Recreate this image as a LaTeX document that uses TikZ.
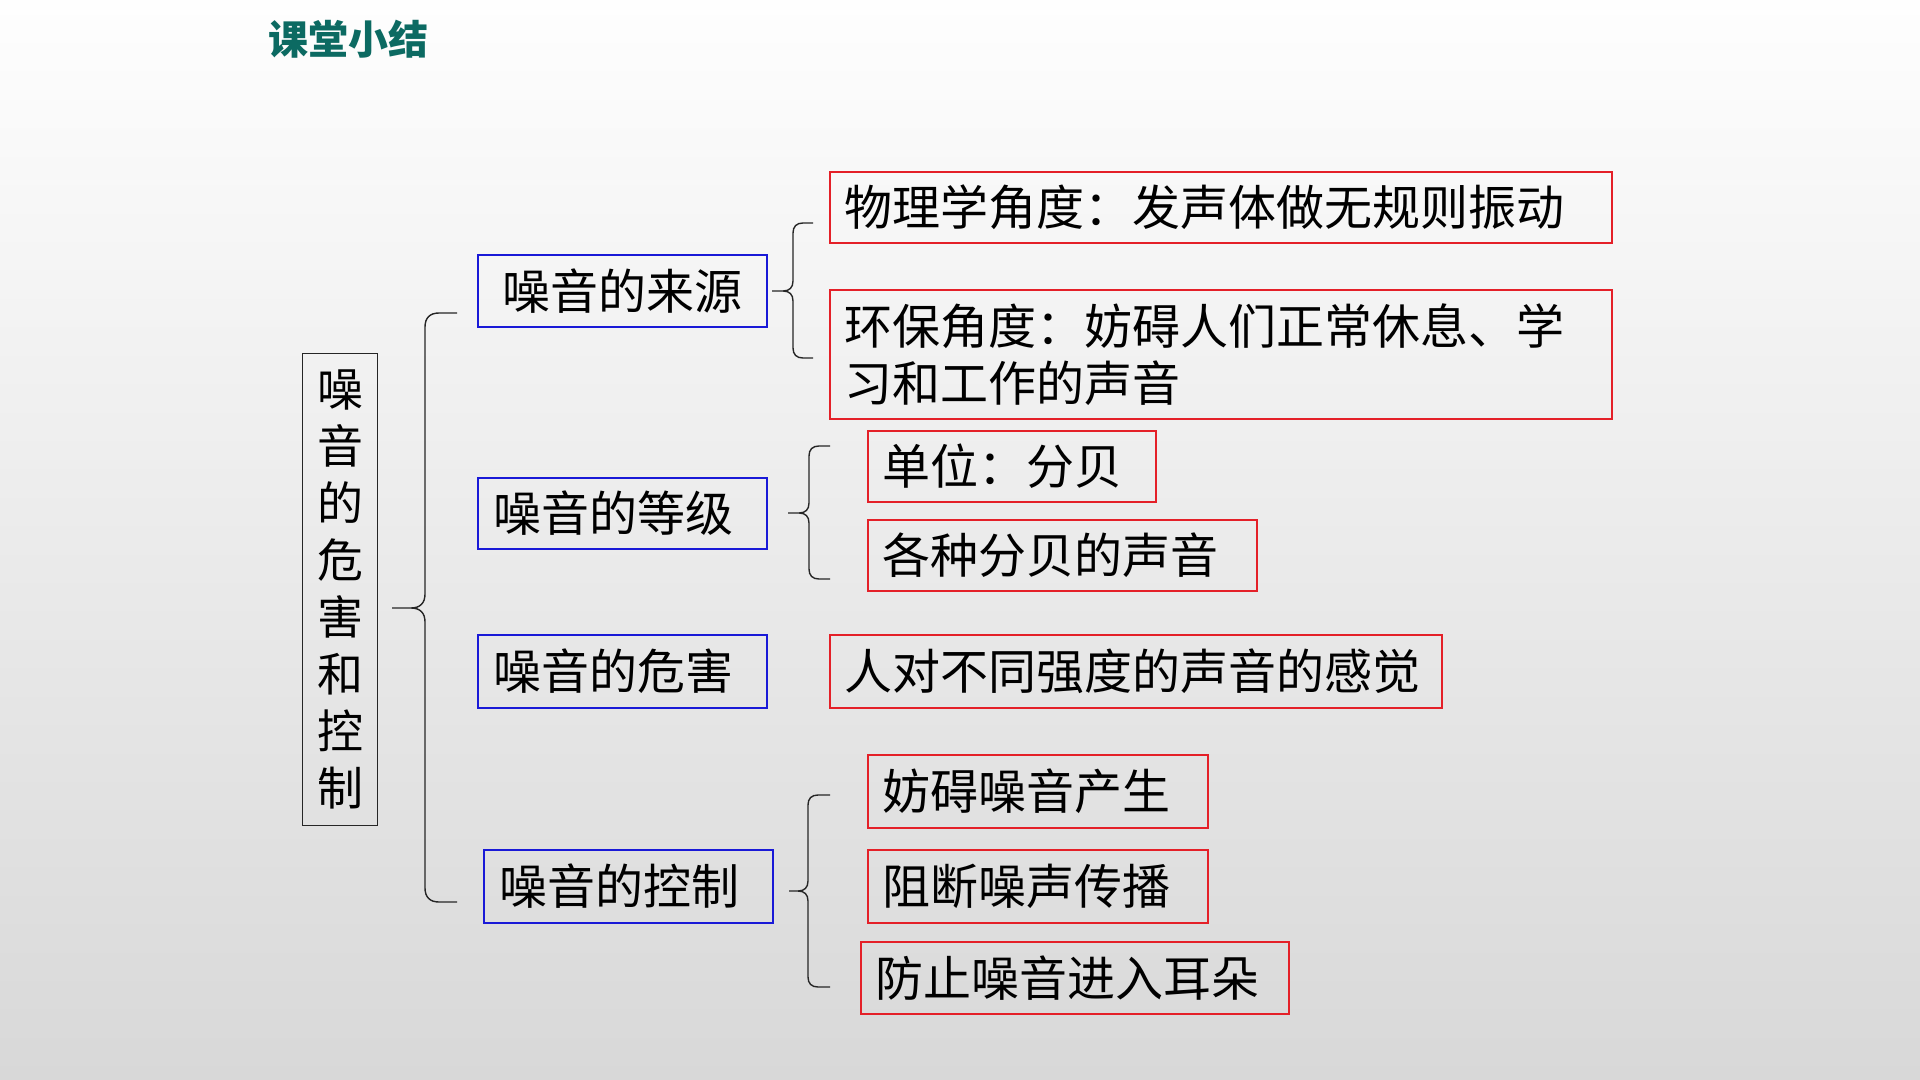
\documentclass[tikz,border=0pt]{standalone}
\usepackage{fontspec}
\setmainfont{Noto Sans CJK SC}
\definecolor{titlecol}{RGB}{12,106,98}
\definecolor{bluec}{RGB}{25,25,215}
\definecolor{redc}{RGB}{228,32,40}
\definecolor{bgtop}{RGB}{254,254,254}
\definecolor{bgbot}{RGB}{216,216,216}
\tikzset{
  base/.style={anchor=north west, inner ysep=0pt, align=left, line width=0.8pt,
    font=\fontsize{24pt}{28.5pt}\selectfont},
  bluebox/.style={base, draw=bluec},
  redbox/.style={base, draw=redc},
  brace/.style={draw=black!85, line width=0.7pt},
}
% #1 endx, #2 vertical x, #3 tip x, #4 top y, #5 tip y, #6 bottom y, #7 radius
\newcommand\bracepath[7]{%
  \draw[brace] (#1,#4) -- (#2+#7,#4) .. controls (#2+0.35*#7,#4) and (#2,#4+0.35*#7) .. (#2,#4+#7)
    -- (#2,#5-#7) .. controls (#2,#5-0.35*#7) and (#2-0.35*#7,#5) .. (#2-#7,#5) -- (#3,#5)
    -- (#2-#7,#5) .. controls (#2-0.35*#7,#5) and (#2,#5+0.35*#7) .. (#2,#5+#7)
    -- (#2,#6-#7) .. controls (#2,#6-0.35*#7) and (#2+0.35*#7,#6) .. (#2+#7,#6) -- (#1,#6);}
\begin{document}
\begin{tikzpicture}[x=0.5pt,y=-0.5pt]
\shade[top color=bgtop, bottom color=bgbot] (0,0) rectangle (1920,1080);
\useasboundingbox (0,0) rectangle (1920,1080);

\node[anchor=west, inner sep=0pt, text=titlecol, font=\fontsize{20pt}{24pt}\selectfont\bfseries] (title) at (268,39) {课堂小结};

% left vertical box
\node[base, draw=black!85, line width=0.7pt, align=center, minimum width=37.5pt, minimum height=236pt, inner xsep=0pt,
  font=\fontsize{23pt}{28.5pt}\selectfont] (root) at (302,353) {噪\\音\\的\\危\\害\\和\\控\\制};

% blue boxes
\node[bluebox, minimum width=144.5pt, minimum height=36pt, inner xsep=12.5pt, text width=119.5pt] (b1) at (477,254) {噪音的来源};
\node[bluebox, minimum width=144.5pt, minimum height=35.5pt, inner xsep=8pt, text width=128.5pt] (b2) at (477,477) {噪音的等级};
\node[bluebox, minimum width=144.5pt, minimum height=36.5pt, inner xsep=8pt, text width=128.5pt] (b3) at (477,634) {噪音的危害};
\node[bluebox, minimum width=144.5pt, minimum height=36.5pt, inner xsep=8pt, text width=128.5pt] (b4) at (483,849) {噪音的控制};

% red boxes
\node[redbox, minimum width=391pt, minimum height=35.5pt, inner xsep=7.5pt, text width=376pt] (r1) at (829,171) {物理学角度：发声体做无规则振动};
\node[redbox, minimum width=391pt, minimum height=64.5pt, inner xsep=7.5pt, text width=376pt] (r2) at (829,289)
  {环保角度：妨碍人们正常休息、学\\习和工作的声音};
\node[redbox, minimum width=144pt, minimum height=35.5pt, inner xsep=7.5pt, text width=129pt] (r3) at (867,430) {单位：分贝};
\node[redbox, minimum width=194.5pt, minimum height=35.5pt, inner xsep=7.5pt, text width=179.5pt] (r4) at (867,519) {各种分贝的声音};
\node[redbox, minimum width=306pt, minimum height=36.5pt, inner xsep=7.5pt, text width=291pt] (r5) at (829,634) {人对不同强度的声音的感觉};
\node[redbox, minimum width=170pt, minimum height=36.5pt, inner xsep=7.5pt, text width=155pt] (r6) at (867,754) {妨碍噪音产生};
\node[redbox, minimum width=170pt, minimum height=36.5pt, inner xsep=7.5pt, text width=155pt] (r7) at (867,849) {阻断噪声传播};
\node[redbox, minimum width=214pt, minimum height=36pt, inner xsep=7.5pt, text width=199pt] (r8) at (860,941) {防止噪音进入耳朵};

% braces
\bracepath{457}{425}{392}{313}{608}{902}{14}
\bracepath{813}{793}{772}{223}{291}{358}{10}
\bracepath{830}{809}{788}{446}{513}{579}{10}
\bracepath{830}{808}{789}{795}{891}{987}{10}
\end{tikzpicture}
\end{document}
